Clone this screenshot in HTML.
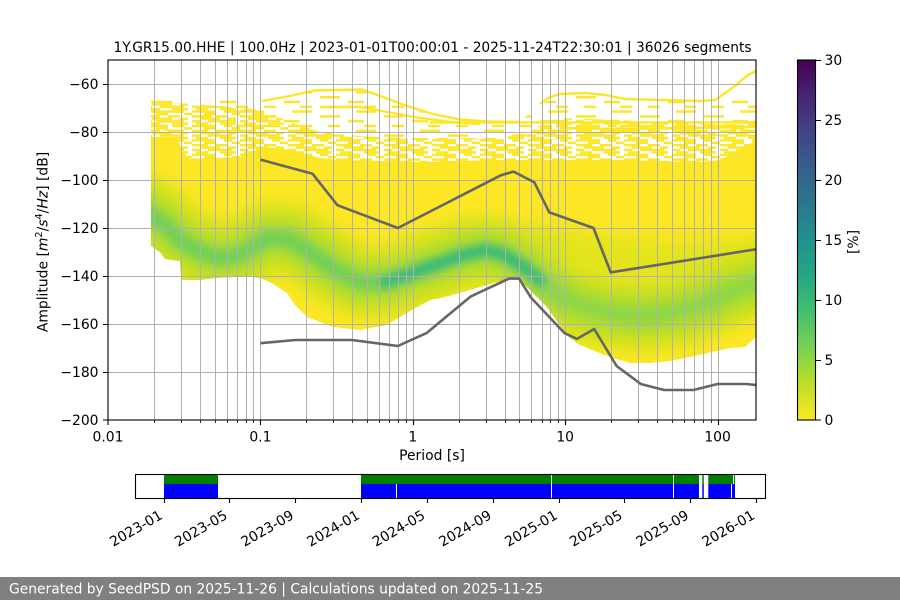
<!DOCTYPE html>
<html>
<head>
<meta charset="utf-8">
<style>
html,body{margin:0;padding:0;background:#fff;}
svg{display:block;}
text{font-family:"DejaVu Sans","Liberation Sans",sans-serif;}
</style>
</head>
<body>
<svg width="900" height="600" viewBox="0 0 900 600" xmlns="http://www.w3.org/2000/svg">
<defs>
  <clipPath id="ax"><rect x="108" y="60" width="648" height="360"/></clipPath>
  <clipPath id="cl"><polygon points="151,137 178,137 181,150 190,159 215,158 240,157 255,150 262,147 280,148 300,152 320,158 340,160 420,162 500,160 540,160 620,160 700,162 720,160 740,150 756,140 756,337 745,347 730,348 712,352 690,357 670,361 650,363 630,363 613,358 597,352 580,345 570,338 563,330 547,307 530,290 520,280 513,278 497,282 480,287 463,292 445,297 430,300 417,307 400,317 387,325 360,330 333,327 307,317 295,305 287,293 270,282 260,278 245,276 233,277 215,278 200,280 181,280 180,261 165,259 160,252 155,249 151,246"/></clipPath>
  <filter id="b10" filterUnits="userSpaceOnUse" x="0" y="0" width="900" height="600"><feGaussianBlur stdDeviation="10"/></filter>
  <filter id="b8" filterUnits="userSpaceOnUse" x="0" y="0" width="900" height="600"><feGaussianBlur stdDeviation="8"/></filter>
  <filter id="b6" filterUnits="userSpaceOnUse" x="0" y="0" width="900" height="600"><feGaussianBlur stdDeviation="6"/></filter>
  <filter id="b4" filterUnits="userSpaceOnUse" x="0" y="0" width="900" height="600"><feGaussianBlur stdDeviation="4"/></filter>
  <pattern id="pd" width="48" height="14.4" patternUnits="userSpaceOnUse">
    <g fill="#fde725">
      <rect x="0" y="0" width="16" height="2.4"/><rect x="24" y="0" width="12" height="2.4"/>
      <rect x="8" y="2.4" width="20" height="2.4"/><rect x="36" y="2.4" width="8" height="2.4"/>
      <rect x="0" y="4.8" width="8" height="2.4"/><rect x="16" y="4.8" width="24" height="2.4"/>
      <rect x="4" y="7.2" width="12" height="2.4"/><rect x="28" y="7.2" width="16" height="2.4"/>
      <rect x="0" y="9.6" width="24" height="2.4"/><rect x="32" y="9.6" width="8" height="2.4"/>
      <rect x="12" y="12" width="12" height="2.4"/><rect x="40" y="12" width="8" height="2.4"/>
    </g>
  </pattern>
  <pattern id="ps" width="64" height="19.2" patternUnits="userSpaceOnUse">
    <g fill="#fde725">
      <rect x="0" y="0" width="20" height="2.4"/>
      <rect x="28" y="4.8" width="16" height="2.4"/>
      <rect x="8" y="9.6" width="12" height="2.4"/><rect x="44" y="9.6" width="12" height="2.4"/>
      <rect x="36" y="14.4" width="20" height="2.4"/>
    </g>
  </pattern>
  <linearGradient id="vir" x1="0" y1="0" x2="0" y2="1">
    <stop offset="0" stop-color="#440154"/>
    <stop offset="0.1" stop-color="#482475"/>
    <stop offset="0.2" stop-color="#414487"/>
    <stop offset="0.3" stop-color="#355f8d"/>
    <stop offset="0.4" stop-color="#2a788e"/>
    <stop offset="0.5" stop-color="#21918c"/>
    <stop offset="0.6" stop-color="#22a884"/>
    <stop offset="0.7" stop-color="#44bf70"/>
    <stop offset="0.8" stop-color="#7ad151"/>
    <stop offset="0.9" stop-color="#bddf26"/>
    <stop offset="1" stop-color="#fde725"/>
  </linearGradient>
</defs>

<rect x="0" y="0" width="900" height="600" fill="#ffffff"/>

<!-- Title -->
<text x="432.5" y="52" font-size="13.9" text-anchor="middle" fill="#000" textLength="638" lengthAdjust="spacingAndGlyphs">1Y.GR15.00.HHE | 100.0Hz | 2023-01-01T00:00:01 - 2025-11-24T22:30:01 | 36026 segments</text>

<!-- Main axes content -->
<g clip-path="url(#ax)">
  <!-- scattered sparse region -->
  <polygon fill="url(#ps)" points="151,97 200,99 262,100 290,96 315,91 360,90 385,97 410,106 440,115 470,120 520,121 540,105 560,94 600,95 640,99 700,100 756,100 756,135 540,140 330,140 151,130"/>
  <!-- scattered dense region -->
  <polygon fill="url(#pd)" points="151,100 178,103 220,106 262,110 290,122 320,132 360,136 400,138 500,138 530,132 545,122 560,118 620,120 700,124 740,124 756,120 756,170 151,170"/>
  <!-- thin explicit lines -->
  <g fill="none" stroke="#fde725" stroke-width="2.4">
    <polyline points="262,101 290,96 315,90.5 362,89.5 383,97 407,106 433,114 460,119.5 487,121.5 520,122"/>
    <polyline points="320,107 360,107 387,112 420,118 450,122 480,124"/>
    <polyline points="430,122.4 756,122.4"/>
    <polyline points="540,104 548,98 560,94 585,93 605,95 625,99 660,100 700,101 715,100 725,93 735,86 742,80 748,75 756,71"/>
    <polyline points="560,128 620,129 680,128 756,127"/>
  </g>
  <!-- solid region -->
  <polygon fill="#fde725" points="151,137 178,137 181,150 190,159 215,158 240,157 255,150 262,147 280,148 300,152 320,158 340,160 420,162 500,160 540,160 620,160 700,162 720,160 740,150 756,140 756,337 745,347 730,348 712,352 690,357 670,361 650,363 630,363 613,358 597,352 580,345 570,338 563,330 547,307 530,290 520,280 513,278 497,282 480,287 463,292 445,297 430,300 417,307 400,317 387,325 360,330 333,327 307,317 295,305 287,293 270,282 260,278 245,276 233,277 215,278 200,280 181,280 180,261 165,259 160,252 155,249 151,246"/>

  <!-- density band -->
  <g clip-path="url(#cl)" fill="none" stroke-linejoin="round" stroke-linecap="round">
    <g filter="url(#b10)">
      <path d="M540,245 L600,255 L680,262 L770,255" stroke="#dce31a" stroke-width="40" opacity="0.8"/>
    </g>
    <g filter="url(#b8)">
      <path d="M140,208 L151,215 L165,225 L180,240 L200,252 L220,258 L240,255 L255,245 L270,238 L290,240 L310,252 L335,270 L360,282 L385,282 L410,274 L435,265 L460,256 L485,250 L505,255 L525,268 L550,290 L580,305 L610,313 L640,316 L670,313 L700,305 L730,292 L770,278" stroke="#cfe11c" stroke-width="68"/>
    </g>
    <g filter="url(#b6)">
      <path d="M140,208 L151,215 L165,225 L180,240 L200,252 L220,258 L240,255 L255,245 L270,238 L290,240 L310,252 L335,270 L360,282 L385,282 L410,274 L435,265 L460,256 L485,250 L505,255 L525,268 L550,290 L580,305 L610,313 L640,316 L670,313 L700,305 L730,292 L770,278" stroke="#a8db34" stroke-width="36"/>
    </g>
    <g filter="url(#b4)">
      <path d="M140,208 L151,215 L165,225 L180,240 L200,252 L220,258 L240,255 L255,245 L270,238 L290,240 L310,252 L335,270 L360,282 L385,282 L410,274 L435,265 L460,256 L485,250 L505,255 L525,268 L550,290 L565,298" stroke="#74d055" stroke-width="16"/>
      <path d="M550,290 L580,305 L610,313 L640,316 L670,313 L700,305 L730,292 L770,278" stroke="#8fd744" stroke-width="14"/>
      <path d="M385,282 L410,274 L435,265 L460,256 L485,250 L505,255 L525,268 L540,280" stroke="#3dbc74" stroke-width="13"/>
    </g>
  </g>

  <!-- grid -->
  <g stroke="#b0b0b0" stroke-width="1" fill="none">
    <path d="M154.5,60V420M181.5,60V420M200.5,60V420M215.5,60V420M227.5,60V420M237.5,60V420M246.5,60V420M253.5,60V420
             M260.5,60V420M306.5,60V420M333.5,60V420M352.5,60V420M367.5,60V420M379.5,60V420M389.5,60V420M398.5,60V420M406.5,60V420
             M413.5,60V420M459.5,60V420M486.5,60V420M505.5,60V420M519.5,60V420M531.5,60V420M542.5,60V420M550.5,60V420M558.5,60V420
             M565.5,60V420M611.5,60V420M638.5,60V420M657.5,60V420M672.5,60V420M684.5,60V420M694.5,60V420M703.5,60V420M711.5,60V420
             M718.5,60V420"/>
    <path d="M108,84.5H756M108,132.5H756M108,180.5H756M108,228.5H756M108,276.5H756M108,324.5H756M108,372.5H756"/>
  </g>

  <!-- noise models -->
  <g fill="none" stroke="#666666" stroke-width="2.6" stroke-linejoin="round">
    <polyline points="260.4,159.6 312.6,173.8 337.4,205.2 397.9,228 501,175.2 513.6,171.6 534.4,182.4 549.3,212.4 593.5,228 610.7,272.4 756,249.3"/>
    <polyline points="260.4,343.2 295.5,340 351.9,340 397.9,346 426.8,332.9 470.5,296.6 509,278.6 519,278.6 531,297.6 564.5,333.1 576.9,338.9 594.2,329 616.6,366 640.8,384 664.1,390 693.3,390 717.6,384 746.4,384 756,385.1"/>
  </g>
</g>

<!-- Main spines -->
<rect x="108" y="60" width="648" height="360" fill="none" stroke="#000" stroke-width="1.1"/>

<!-- y ticks -->
<g stroke="#000" stroke-width="1.1">
  <path d="M103,84.5H108M103,132.5H108M103,180.5H108M103,228.5H108M103,276.5H108M103,324.5H108M103,372.5H108M103,420H108"/>
</g>
<g font-size="13.9" text-anchor="end" fill="#000">
  <text x="98.5" y="89">−60</text>
  <text x="98.5" y="137">−80</text>
  <text x="98.5" y="185">−100</text>
  <text x="98.5" y="233">−120</text>
  <text x="98.5" y="281">−140</text>
  <text x="98.5" y="329">−160</text>
  <text x="98.5" y="377">−180</text>
  <text x="98.5" y="425">−200</text>
</g>

<!-- x ticks -->
<g stroke="#000" stroke-width="1.1">
  <path d="M108,420V425M260.5,420V425M413.5,420V425M565.5,420V425M718.5,420V425"/>
</g>
<g stroke="#000" stroke-width="0.8">
  <path d="M154.5,420V423M181.5,420V423M200.5,420V423M215.5,420V423M227.5,420V423M237.5,420V423M246.5,420V423M253.5,420V423
           M306.5,420V423M333.5,420V423M352.5,420V423M367.5,420V423M379.5,420V423M389.5,420V423M398.5,420V423M406.5,420V423
           M459.5,420V423M486.5,420V423M505.5,420V423M519.5,420V423M531.5,420V423M542.5,420V423M550.5,420V423M558.5,420V423
           M611.5,420V423M638.5,420V423M657.5,420V423M672.5,420V423M684.5,420V423M694.5,420V423M703.5,420V423M711.5,420V423"/>
</g>
<g font-size="13.9" text-anchor="middle" fill="#000">
  <text x="108" y="441.5">0.01</text>
  <text x="260.4" y="441.5">0.1</text>
  <text x="412.8" y="441.5">1</text>
  <text x="565.2" y="441.5">10</text>
  <text x="717.6" y="441.5">100</text>
  <text x="432" y="460">Period [s]</text>
</g>

<!-- y label -->
<text transform="translate(47.5,242) rotate(-90)" x="0" y="0" font-size="13.9" text-anchor="middle" fill="#000">Amplitude [<tspan font-style="italic">m</tspan><tspan font-size="9.7" dy="-5.5">2</tspan><tspan dy="5.5">/</tspan><tspan font-style="italic">s</tspan><tspan font-size="9.7" dy="-5.5">4</tspan><tspan dy="5.5">/</tspan><tspan font-style="italic">Hz</tspan>] [dB]</text>

<!-- Colorbar -->
<rect x="797.5" y="60" width="18" height="360" fill="url(#vir)"/>
<rect x="797.5" y="60" width="18" height="360" fill="none" stroke="#000" stroke-width="1.1"/>
<g stroke="#000" stroke-width="1.1">
  <path d="M816,60.5H821M816,120.5H821M816,180.5H821M816,240.5H821M816,300.5H821M816,360.5H821M816,420H821"/>
</g>
<g font-size="13.9" fill="#000">
  <text x="824.5" y="65">30</text>
  <text x="824.5" y="125">25</text>
  <text x="824.5" y="185">20</text>
  <text x="824.5" y="245">15</text>
  <text x="824.5" y="305">10</text>
  <text x="824.5" y="365">5</text>
  <text x="824.5" y="425">0</text>
</g>
<text transform="translate(858,242) rotate(-90)" x="0" y="0" font-size="13.9" text-anchor="middle" fill="#000">[%]</text>

<!-- Timeline -->
<g>
  <rect x="164" y="474" width="54" height="10" fill="#008000"/>
  <rect x="164" y="484" width="54" height="14" fill="#0000ff"/>
  <rect x="361" y="474" width="338" height="10" fill="#008000"/>
  <rect x="361" y="484" width="338" height="14" fill="#0000ff"/>
  <rect x="702.3" y="474" width="1.5" height="10" fill="#008000"/>
  <rect x="702.3" y="484" width="1.5" height="14" fill="#0000ff"/>
  <rect x="708.3" y="474" width="26.7" height="10" fill="#008000"/>
  <rect x="708.3" y="484" width="26.7" height="14" fill="#0000ff"/>
  <rect x="396" y="484" width="1" height="14" fill="#ffffff"/>
  <rect x="551" y="474" width="1" height="24" fill="#ffffff"/>
  <rect x="673" y="474" width="1" height="24" fill="#ffffff"/>
  <rect x="731" y="484" width="1" height="14" fill="#ffffff"/>
  <rect x="733" y="474" width="1" height="10" fill="#ffffff"/>
</g>
<rect x="135.5" y="474.5" width="630" height="24" fill="none" stroke="#000" stroke-width="1.1"/>
<g stroke="#000" stroke-width="1.1">
  <path d="M164.5,498V503M229.5,498V503M295.5,498V503M361.5,498V503M427.5,498V503M493.5,498V503M559.5,498V503M624.5,498V503M690.5,498V503M756.5,498V503"/>
</g>
<g font-size="13.9" text-anchor="end" fill="#000">
  <text x="163.5" y="518" transform="rotate(-30 163.5 518)">2023-01</text>
  <text x="228.4" y="518" transform="rotate(-30 228.4 518)">2023-05</text>
  <text x="294.8" y="518" transform="rotate(-30 294.8 518)">2023-09</text>
  <text x="360.7" y="518" transform="rotate(-30 360.7 518)">2024-01</text>
  <text x="426.1" y="518" transform="rotate(-30 426.1 518)">2024-05</text>
  <text x="492.6" y="518" transform="rotate(-30 492.6 518)">2024-09</text>
  <text x="558.5" y="518" transform="rotate(-30 558.5 518)">2025-01</text>
  <text x="623.4" y="518" transform="rotate(-30 623.4 518)">2025-05</text>
  <text x="689.8" y="518" transform="rotate(-30 689.8 518)">2025-09</text>
  <text x="755.8" y="518" transform="rotate(-30 755.8 518)">2026-01</text>
</g>

<!-- Footer -->
<rect x="0" y="577" width="900" height="23" fill="#808080"/>
<text x="9" y="593.5" font-size="13.9" fill="#ffffff" textLength="534" lengthAdjust="spacingAndGlyphs">Generated by SeedPSD on 2025-11-26 | Calculations updated on 2025-11-25</text>
</svg>
</body>
</html>
